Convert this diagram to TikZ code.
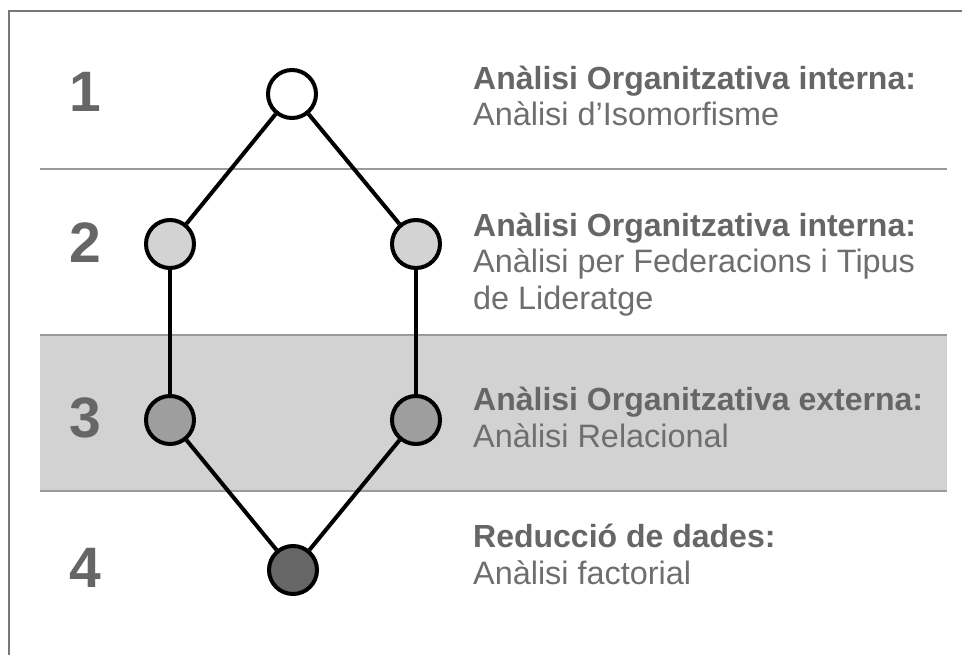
\documentclass[tikz,border=0pt]{standalone}
\usepackage{fontspec}
\setmainfont{Liberation Sans}
\definecolor{framegray}{HTML}{777777}
\definecolor{sepgray}{HTML}{9A9A9A}
\definecolor{bandgray}{HTML}{D2D2D2}
\definecolor{txtgray}{HTML}{666666}
\definecolor{bodygray}{HTML}{6E6E6E}
\definecolor{lvltwo}{HTML}{D3D3D3}
\definecolor{lvlthree}{HTML}{9E9E9E}
\definecolor{lvlfour}{HTML}{666666}
\tikzset{
  dot/.style={circle, draw=black, line width=4pt, minimum size=48pt, inner sep=0pt},
  link/.style={draw=black, line width=4pt},
  numlabel/.style={anchor=base, inner sep=0pt, text=txtgray, font=\fontsize{57}{57}\selectfont\bfseries},
  desc/.style={anchor=base west, inner sep=0pt, align=left, text=bodygray, font=\fontsize{32.4}{36.5}\selectfont},
  head/.style={},
  sepline/.style={draw=sepgray, line width=2pt}
}
\newcommand{\headline}[1]{\textcolor{txtgray}{\fontsize{32}{36.5}\selectfont\bfseries #1}}
\begin{document}
\begin{tikzpicture}[x=1pt, y=-1pt]
\useasboundingbox (0,0) rectangle (962,655);
% frame
\draw[framegray, line width=2pt] (9,655) -- (9,11) -- (962,11);
% band
\fill[bandgray] (40,335) rectangle (947,491);
\draw[sepline] (40,169) -- (947,169);
\draw[sepline] (40,335) -- (947,335);
\draw[sepline] (40,491) -- (947,491);
% numbers
\node[numlabel] (n1) at (85,112) {1};
\node[numlabel] (n2) at (85,263) {2};
\node[numlabel] (n3) at (85,437) {3};
\node[numlabel] (n4) at (85,587) {4};
% circles
\node[dot, fill=white] (a) at (292,94) {};
\node[dot, fill=lvltwo] (b) at (170,244) {};
\node[dot, fill=lvltwo] (c) at (416,244) {};
\node[dot, fill=lvlthree] (d) at (170,420) {};
\node[dot, fill=lvlthree] (e) at (416,420) {};
\node[dot, fill=lvlfour] (f) at (293,570) {};
\draw[link] (a) -- (b);
\draw[link] (a) -- (c);
\draw[link] (b) -- (d);
\draw[link] (c) -- (e);
\draw[link] (d) -- (f);
\draw[link] (e) -- (f);
% descriptions (anchored at the baseline of their last line)
\node[desc] (t1) at (473,126) {\headline{Anàlisi Organitzativa interna:}\\Anàlisi d’Isomorfisme};
\node[desc] (t2) at (473,309) {\headline{Anàlisi Organitzativa interna:}\\Anàlisi per Federacions i Tipus\\de Lideratge};
\node[desc] (t3) at (473,447) {\headline{Anàlisi Organitzativa externa:}\\Anàlisi Relacional};
\node[desc] (t4) at (473,584) {\headline{Reducció de dades:}\\Anàlisi factorial};
\end{tikzpicture}
\end{document}
